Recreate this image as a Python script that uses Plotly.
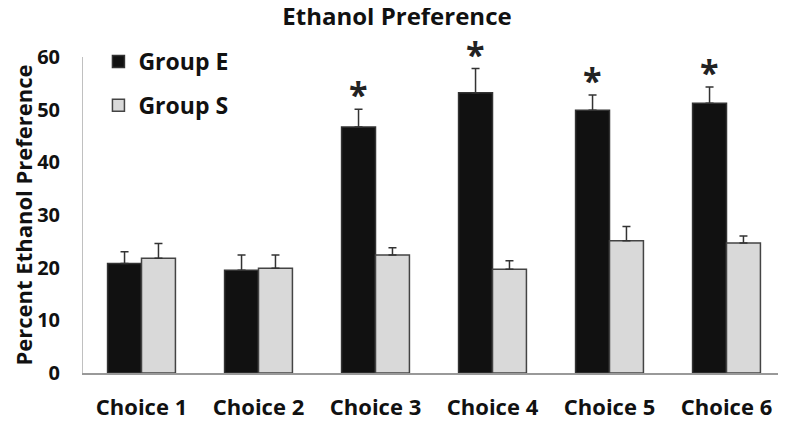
import plotly.graph_objects as go

categories = ["Choice 1", "Choice 2", "Choice 3", "Choice 4", "Choice 5", "Choice 6"]
group_e = [20.8, 19.5, 46.7, 53.2, 49.9, 51.2]
group_e_err = [2.2, 2.9, 3.4, 4.6, 2.9, 3.1]
group_s = [21.8, 19.9, 22.4, 19.7, 25.1, 24.7]
group_s_err = [2.8, 2.5, 1.4, 1.6, 2.7, 1.3]
significant = [False, False, True, True, True, True]

FONT = "Open Sans"
fig = go.Figure()
fig.add_trace(go.Bar(
    x=categories, y=group_e, name="Group E",
    marker=dict(color="#111111", line=dict(color="#333333", width=1.5)),
    error_y=dict(type="data", array=group_e_err, symmetric=False,
                 arrayminus=[0]*6, color="#333333", thickness=1.5, width=4),
    legendgroup="e",
))
fig.add_trace(go.Bar(
    x=categories, y=group_s, name="Group S",
    marker=dict(color="#d9d9d9", line=dict(color="#444444", width=1.5)),
    error_y=dict(type="data", array=group_s_err, symmetric=False,
                 arrayminus=[0]*6, color="#333333", thickness=1.5, width=4),
    legendgroup="s",
))
for c, v, e, s in zip(categories, group_e, group_e_err, significant):
    if s:
        fig.add_annotation(x=c, y=v + e, xref="x", yref="y", text="<b>*</b>",
                           showarrow=False, xshift=-17, yshift=15, yanchor="middle",
                           font=dict(family=FONT, size=34, color="#222222"))

fig.update_layout(
    width=778, height=413,
    margin=dict(l=75, r=1, t=49, b=48),
    paper_bgcolor="white", plot_bgcolor="white",
    barmode="group", bargap=0.42, bargroupgap=0,
    title=dict(text="<b>Ethanol Preference</b>", x=389/778, xanchor="center",
               y=1, yanchor="top",
               font=dict(family=FONT, size=24, color="#111111")),
    font=dict(family=FONT, color="#111111"),
    showlegend=True,
    legend=dict(x=0.022, y=1.054, xanchor="left", yanchor="top",
                bgcolor="rgba(0,0,0,0)", tracegroupgap=11,
                font=dict(family=FONT, size=23, color="#111111", weight="bold")),
    xaxis=dict(showline=True, linecolor="#999999", linewidth=1.5,
               ticks="", ticklabelstandoff=14,
               tickfont=dict(family=FONT, size=22, weight="bold", color="#111111"),
               showgrid=False, zeroline=False),
    yaxis=dict(range=[0, 60], dtick=10, showline=True, linecolor="#c0c0c0", linewidth=1,
               ticks="", showgrid=False, zeroline=False, ticklabelstandoff=18,
               tickfont=dict(family=FONT, size=20, weight="bold", color="#111111"),
               automargin=False,
               title=dict(text="<b>Percent Ethanol Preference</b>", standoff=8,
                          font=dict(family=FONT, size=22, color="#111111"))),
)
fig.write_html("out.html")
